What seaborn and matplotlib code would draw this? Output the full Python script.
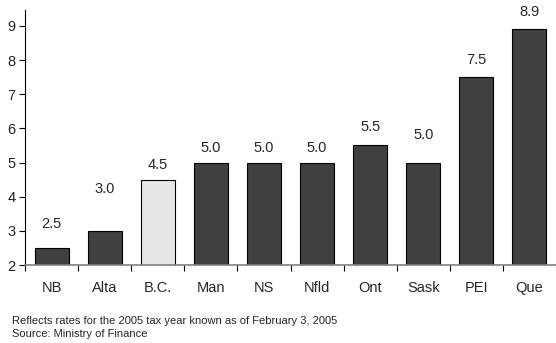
import matplotlib
matplotlib.use("Agg")
import matplotlib.pyplot as plt
import seaborn as sns
import pandas as pd

provinces = ["NB", "Alta", "B.C.", "Man", "NS", "Nfld", "Ont", "Sask", "PEI", "Que"]
rates = [2.5, 3.0, 4.5, 5.0, 5.0, 5.0, 5.5, 5.0, 7.5, 8.9]
value_labels = ["2.5", "3.0", "4.5", "5.0", "5.0", "5.0", "5.5", "5.0", "7.5", "8.9"]
y_ticks = [2, 3, 4, 5, 6, 7, 8, 9]
footnotes = ["Reflects rates for the 2005 tax year known as of February 3, 2005",
             "Source: Ministry of Finance"]

# label gap above each bar, in pixels
label_gap_px = [24, 42, 15, 15, 15, 15, 18, 28, 17, 17]

sns.set_theme(style="white")
plt.rcParams["font.family"] = ["Liberation Sans", "DejaVu Sans"]

df = pd.DataFrame({"province": provinces, "rate": rates})
colors = ["#e6e6e6" if p == "B.C." else "#404040" for p in provinces]

fig = plt.figure(figsize=(5.56, 3.43), dpi=100)
ax = fig.add_axes([0.045, 0.2274, 0.955, 0.744])

sns.barplot(data=df, x="province", y="rate", hue="province", palette=colors,
            legend=False, width=0.64, edgecolor="black", linewidth=0.8, ax=ax,
            saturation=1)

ax.set_ylim(2, 9.47)
ax.set_xlim(-0.5, 9.5)
ax.set_yticks(y_ticks)
ax.set_yticklabels([str(t) for t in y_ticks], fontsize=10.5)
ax.set_xlabel("")
ax.set_ylabel("")

for s in ["top", "right"]:
    ax.spines[s].set_visible(False)
ax.spines["left"].set_color("black")
ax.spines["left"].set_linewidth(0.8)
ax.spines["bottom"].set_color("#808080")
ax.spines["bottom"].set_linewidth(1.2)

ax.tick_params(axis="y", length=4, width=0.8, color="black", left=True, pad=3)
# category ticks sit between bars
ax.set_xticks([i + 0.5 for i in range(-1, 10)], minor=False)
ax.set_xticklabels([])
ax.tick_params(axis="x", length=4, width=0.8, color="black", bottom=True,
               direction="out")
for i, p in enumerate(provinces):
    ax.text(i, -0.09, p, transform=ax.get_xaxis_transform(), ha="center",
            va="center", fontsize=10.5)

for i, (v, lab) in enumerate(zip(rates, value_labels)):
    ax.annotate(lab, (i, v), xytext=(0, label_gap_px[i] * 0.72),
                textcoords="offset points", ha="center", va="center",
                fontsize=10.5, annotation_clip=False)

fig.text(12 / 556, 1 - 321 / 343, footnotes[0], fontsize=8, va="center", ha="left")
fig.text(12 / 556, 1 - 334 / 343, footnotes[1], fontsize=8, va="center", ha="left")

fig.savefig("out.png", dpi=100)
